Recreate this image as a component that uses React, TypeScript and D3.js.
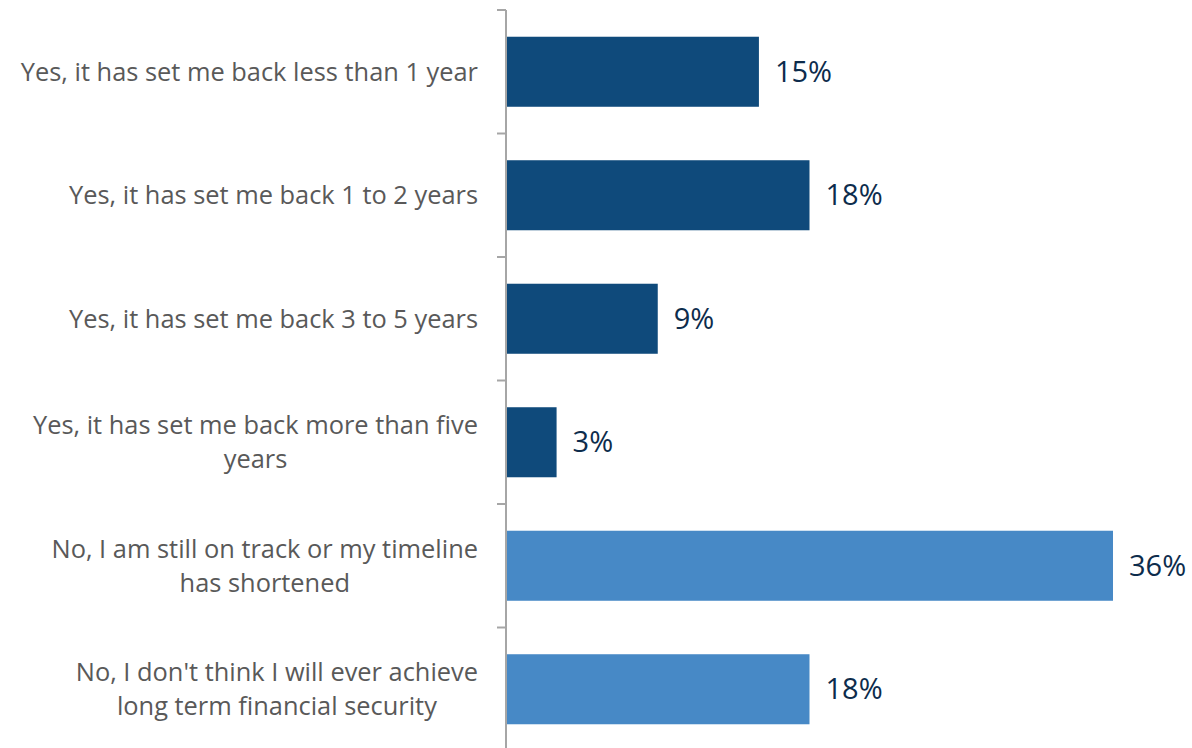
import React from "react";
import * as d3 from "d3";

const categories: string[][] = [
  ["Yes, it has set me back less than 1 year"],
  ["Yes, it has set me back 1 to 2 years"],
  ["Yes, it has set me back 3 to 5 years"],
  ["Yes, it has set me back more than five", "years"],
  ["No, I am still on track or my timeline", "has shortened"],
  ["No, I don't think I will ever achieve", "long term financial security"],
];
const values: number[] = [15, 18, 9, 3, 36, 18];
const valueLabels: string[] = ["15%", "18%", "9%", "3%", "36%", "18%"];
const groups: string[] = ["yes", "yes", "yes", "yes", "no", "no"];

const W = 1192;
const H = 748;
const axisX = 506;
const labelRight = 478;
const colors: Record<string, string> = { yes: "#0F4A7B", no: "#4789C6" };
const FONT = "'Open Sans', sans-serif";
const LABEL_SIZE = 25.4;
const VALUE_SIZE = 29;

let ctx: CanvasRenderingContext2D | null = null;
function measure(s: string, size: number): number {
  if (!ctx) ctx = document.createElement("canvas").getContext("2d");
  if (!ctx) return s.length * size * 0.5;
  ctx.font = `${size}px 'Open Sans'`;
  return ctx.measureText(s).width;
}

export default function App() {
  const ids = categories.map((_, i) => String(i));
  const y = d3
    .scaleBand<string>()
    .domain(ids)
    .range([10, 751])
    .paddingInner(0.433)
    .paddingOuter(0.2165);
  const x = d3.scaleLinear().domain([0, 36]).range([axisX, 1113]);
  const step = y.step();
  const tickYs = d3.range(categories.length + 1).map((i) => 10 + i * step);
  const lineH = 34;

  return (
    <svg
      width={W}
      height={H}
      style={{ position: "absolute", left: 0, top: 0, background: "#fff" }}
    >
      {ids.map((id, i) => (
        <rect
          key={"b" + id}
          x={axisX}
          y={y(id)!}
          width={x(values[i]) - axisX}
          height={y.bandwidth()}
          fill={colors[groups[i]]}
        />
      ))}
      <line x1={axisX} x2={axisX} y1={10} y2={H} stroke="#A6A6A6" strokeWidth={2} />
      {tickYs.map((t, i) => (
        <line key={"t" + i} x1={497} x2={axisX} y1={t} y2={t} stroke="#A6A6A6" strokeWidth={2} />
      ))}
      {ids.map((id, i) => {
        const cy = y(id)! + y.bandwidth() / 2;
        const lines = categories[i];
        const maxW = Math.max(...lines.map((l) => measure(l, LABEL_SIZE)));
        const cx = labelRight - maxW / 2;
        const start = cy - ((lines.length - 1) * lineH) / 2;
        return (
          <text
            key={"l" + id}
            textAnchor="middle"
            fontFamily={FONT}
            fontSize={LABEL_SIZE}
            fill="#595959"
          >
            {lines.map((ln, j) => (
              <tspan key={j} x={cx} y={start + j * lineH} dy="0.35em">
                {ln}
              </tspan>
            ))}
          </text>
        );
      })}
      {ids.map((id, i) => {
        const cy = y(id)! + y.bandwidth() / 2;
        return (
          <text
            key={"v" + id}
            x={x(values[i]) + 16}
            y={cy}
            dy="0.35em"
            fontFamily={FONT}
            fontSize={VALUE_SIZE}
            fill="#0D2C4C"
          >
            {valueLabels[i]}
          </text>
        );
      })}
    </svg>
  );
}
